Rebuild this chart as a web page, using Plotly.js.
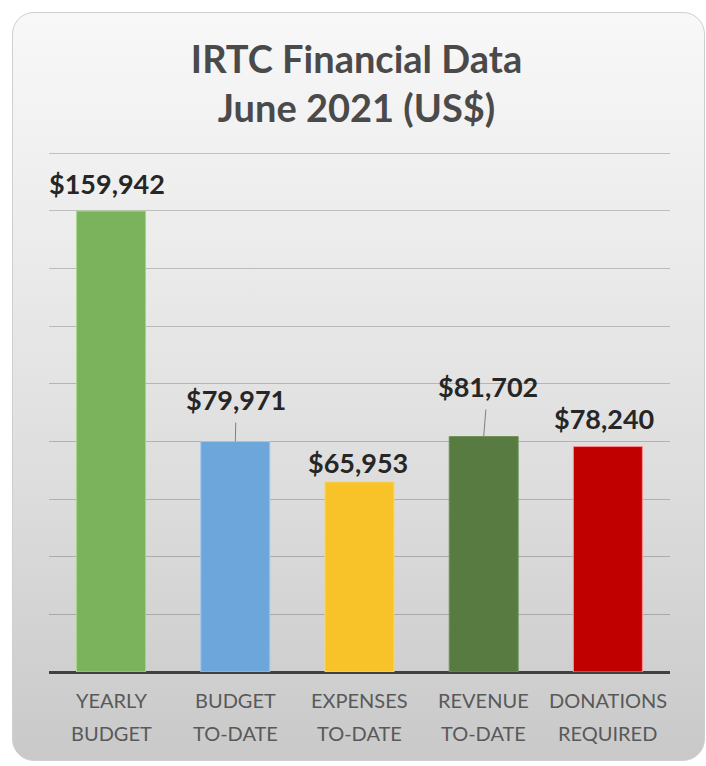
<!DOCTYPE html>
<html>
<head>
<meta charset="utf-8">
<script src="https://cdn.plot.ly/plotly-3.0.1.min.js"></script>
<style>
  html, body { margin:0; padding:0; background:#ffffff; }
  #wrap { position:relative; width:706px; height:766px; overflow:hidden; }
  #box { position:absolute; left:12px; top:12px; width:691px; height:747px;
         border-radius:22px; border:1px solid #cfcfcf;
         background: linear-gradient(to bottom, #f8f8f8 0%, #ececec 30%, #dcdcdc 65%, #c9c9c9 100%); }
  #chart { position:absolute; left:0; top:0; width:706px; height:766px; }
</style>
</head>
<body>
<div id="wrap">
  <div id="box"></div>
  <div id="chart"></div>
</div>
<script>
// ---- data ----
const categoryLine1 = ["YEARLY", "BUDGET", "EXPENSES", "REVENUE", "DONATIONS"];
const categoryLine2 = ["BUDGET", "TO-DATE", "TO-DATE", "TO-DATE", "REQUIRED"];
const values = [159942, 79971, 65953, 81702, 78240];
const valueLabels = ["$159,942", "$79,971", "$65,953", "$81,702", "$78,240"];
const barColors = ["#7ab35b", "#6ca6da", "#f8c328", "#587b41", "#c00000"];
const barEdges = ["#a6d48a", "#9cc6ec", "#fbd66a", "#6f9057", "#ff8a8a"];

// ---- label placement (style) ----
const labelLeader = [false, true, false, true, false];
const labelDx = [-4, 1, -2, 4, -4];
const labelDy = [-28, -42, -19, -50, -28];

const xIdx = values.map((v, i) => i);

const trace = {
  type: "bar",
  x: xIdx,
  y: values,
  width: 0.555,
  marker: { color: barColors, line: { color: barEdges, width: 1 } },
  hoverinfo: "skip"
};

const labelFont = { family: "Lato, sans-serif", size: 27, color: "#262626", weight: 700 };
const catFont = { family: "Lato, sans-serif", size: 20, color: "#595959" };

const annotations = [];
values.forEach((v, i) => {
  if (labelLeader[i]) {
    annotations.push({
      x: i, y: v, xref: "x", yref: "y",
      text: valueLabels[i], showarrow: true,
      ax: labelDx[i], ay: labelDy[i], axref: "pixel", ayref: "pixel",
      arrowhead: 0, arrowwidth: 1, arrowcolor: "#808080", borderpad: 6,
      font: labelFont
    });
  } else {
    annotations.push({
      x: i, y: v, xref: "x", yref: "y",
      text: valueLabels[i], showarrow: false,
      xshift: labelDx[i], yshift: -labelDy[i], yanchor: "middle",
      font: labelFont
    });
  }
  annotations.push({
    x: i, y: 0, xref: "x", yref: "paper", yanchor: "middle",
    yshift: -28, text: categoryLine1[i], showarrow: false, font: catFont
  });
  annotations.push({
    x: i, y: 0, xref: "x", yref: "paper", yanchor: "middle",
    yshift: -61, text: categoryLine2[i], showarrow: false, font: catFont
  });
});

const layout = {
  width: 706, height: 766,
  margin: { l: 49, r: 36, t: 149, b: 94, pad: 0 },
  paper_bgcolor: "rgba(0,0,0,0)",
  plot_bgcolor: "rgba(0,0,0,0)",
  showlegend: false,
  title: {
    text: "IRTC Financial Data<br>June 2021 (US$)",
    x: 0.505, xanchor: "center",
    y: 0.905, yanchor: "middle", yref: "container",
    font: { family: "Lato, sans-serif", size: 38, color: "#4a4a4a", weight: 700 }
  },
  xaxis: {
    range: [-0.5, 4.5], showticklabels: false, ticks: "",
    showgrid: false, zeroline: false, showline: false, fixedrange: true
  },
  yaxis: {
    range: [0, 181500], tick0: 0, dtick: 20000, showticklabels: false, ticks: "",
    showgrid: true, gridcolor: "rgba(0,0,0,0.2)", gridwidth: 1,
    zeroline: true, zerolinecolor: "#404040", zerolinewidth: 3,
    showline: false, fixedrange: true
  },
  annotations: annotations
};

Plotly.newPlot("chart", [trace], layout, { displayModeBar: false, staticPlot: true });
</script>
</body>
</html>
